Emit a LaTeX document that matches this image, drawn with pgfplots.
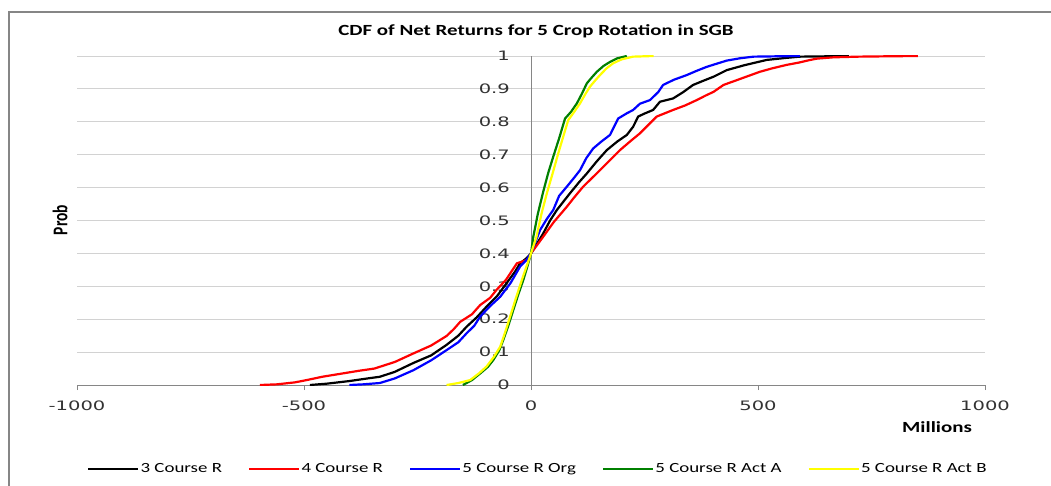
\documentclass[border=0pt]{standalone}
\usepackage{pgfplots}
\pgfplotsset{compat=1.18}
\usepackage{fontspec}
\setmainfont{Carlito}[FakeStretch=1.35]
\newfontfamily\plainfont{Carlito}
\newfontfamily\tickfont{DejaVu Sans}[FakeStretch=1.5]
\definecolor{axgray}{RGB}{134,134,134}
\definecolor{gridgray}{RGB}{210,210,210}
\definecolor{xlgreen}{RGB}{0,128,0}
\definecolor{xlyellow}{RGB}{255,255,0}
\begin{document}
\begin{tikzpicture}[x=1pt,y=1pt]
\useasboundingbox (0,0) rectangle (1051,-486);
\draw[axgray, line width=2pt] (8.5,-486) -- (8.5,-12) -- (1051,-12);
\begin{axis}[
  at={(77pt,-385pt)}, anchor=south west,
  scale only axis, width=908pt, height=329pt,
  xmin=-1000, xmax=1000, ymin=0, ymax=1,
  axis x line=bottom, axis y line=center,
  hide obscured x ticks=false, hide obscured y ticks=false,
  axis line style={-, draw=axgray, line width=1pt},
  every inner x axis line/.append style={-},
  every inner y axis line/.append style={-},
  xtick={-1000,-500,0,500,1000},
  xticklabels={-1000,-500,0,500,1000},
  ytick={0,0.1,0.2,0.3,0.4,0.5,0.6,0.7,0.8,0.9,1},
  yticklabels={0,0.1,0.2,0.3,0.4,0.5,0.6,0.7,0.8,0.9,1},
  ymajorgrids, grid style={gridgray, line width=0.8pt},
  tick align=outside, major tick length=5pt,
  xtick style={draw=axgray, line width=0.8pt},
  ytick style={draw=none},
  xticklabel style={font=\fontsize{13}{15}\tickfont\selectfont, color=black!80, anchor=north, inner sep=0pt, yshift=-11pt},
  yticklabel style={font=\fontsize{13}{15}\tickfont\selectfont, color=black!80, anchor=east, inner sep=0pt, xshift=-16pt},
  legend style={at={(0.507,-0.255)}, anchor=center, draw=none, fill=none,
    font=\fontsize{14}{16}\selectfont, legend columns=5,
    /tikz/every even column/.append style={column sep=25pt},
    nodes={inner sep=1pt}},
  legend image code/.code={\draw[#1, line width=2.5pt] (0pt,0pt) -- (50pt,0pt);},
  line join=round,
]
\addplot[black, line width=2.2pt] coordinates {
(-487,0) (-450,0.004) (-400,0.012) (-360,0.02) (-333,0.025) (-300,0.04) (-259,0.067)
(-220,0.09) (-186,0.122) (-160,0.15) (-142,0.177) (-120,0.205) (-98,0.238) (-75,0.27)
(-54,0.309) (-35,0.345) (-24,0.37) (-10,0.385) (0,0.40) (27,0.461) (42,0.5) (57,0.532)
(70,0.555) (86,0.583) (105,0.615) (123,0.643) (145,0.68) (167,0.714) (190,0.74)
(211,0.76) (225,0.785) (236,0.816) (250,0.825) (269,0.836) (284,0.861) (313,0.871)
(335,0.89) (357,0.912) (380,0.925) (402,0.937) (431,0.957) (470,0.972) (519,0.988)
(560,0.994) (592,0.998) (650,0.999) (700,1.0)};
\addlegendentry{3 Course R}
\addplot[red, line width=2.2pt] coordinates {
(-597,0) (-560,0.002) (-520,0.008) (-494,0.015) (-460,0.025) (-420,0.034) (-380,0.043)
(-345,0.05) (-300,0.07) (-259,0.096) (-220,0.12) (-186,0.149) (-170,0.17) (-156,0.192)
(-130,0.215) (-112,0.243) (-90,0.265) (-76,0.289) (-55,0.32) (-31,0.37) (-9,0.38)
(0,0.40) (27,0.451) (50,0.495) (79,0.542) (95,0.57) (115,0.603) (135,0.63) (152,0.653)
(175,0.685) (196,0.714) (218,0.74) (240,0.765) (258,0.79) (277,0.816) (295,0.826)
(313,0.836) (340,0.85) (365,0.866) (385,0.88) (402,0.891) (424,0.912) (450,0.925)
(480,0.94) (504,0.952) (530,0.962) (563,0.973) (590,0.98) (615,0.988) (630,0.992)
(666,0.996) (720,0.998) (780,0.999) (852,1.0)};
\addlegendentry{4 Course R}
\addplot[blue, line width=2.2pt] coordinates {
(-400,0) (-370,0.002) (-333,0.006) (-300,0.02) (-259,0.045) (-220,0.075) (-186,0.106)
(-160,0.13) (-142,0.157) (-125,0.18) (-112,0.208) (-90,0.24) (-68,0.268) (-45,0.31)
(-24,0.36) (-10,0.38) (0,0.40) (20,0.471) (35,0.505) (49,0.532) (62,0.575) (79,0.603)
(95,0.63) (108,0.653) (122,0.69) (137,0.719) (155,0.74) (174,0.76) (192,0.81)
(210,0.825) (225,0.836) (240,0.855) (262,0.866) (280,0.89) (291,0.912) (315,0.928)
(343,0.942) (365,0.955) (387,0.967) (410,0.977) (431,0.986) (460,0.993) (490,0.998)
(540,0.999) (592,1.0)};
\addlegendentry{5 Course R Org}
\addplot[xlgreen, line width=2.2pt] coordinates {
(-150,0) (-130,0.015) (-112,0.035) (-95,0.055) (-83,0.076) (-70,0.105) (-61,0.137)
(-50,0.18) (-39,0.228) (-28,0.275) (-17,0.319) (-8,0.36) (0,0.40) (5,0.45) (15,0.52)
(27,0.588) (38,0.645) (49,0.694) (62,0.75) (75,0.81) (88,0.83) (101,0.856) (112,0.885)
(123,0.917) (134,0.935) (145,0.952) (160,0.97) (174,0.982) (190,0.993) (211,1.0)};
\addlegendentry{5 Course R Act A}
\addplot[xlyellow, line width=2.2pt] coordinates {
(-186,0) (-160,0.006) (-134,0.015) (-115,0.035) (-98,0.056) (-82,0.085) (-68,0.116)
(-57,0.16) (-46,0.208) (-33,0.265) (-20,0.32) (-10,0.36) (0,0.40) (12,0.45) (23,0.52)
(35,0.583) (48,0.645) (60,0.704) (71,0.755) (82,0.805) (95,0.83) (108,0.856)
(120,0.885) (130,0.907) (141,0.925) (152,0.942) (166,0.962) (181,0.978) (200,0.99)
(225,0.998) (270,1.0)};
\addlegendentry{5 Course R Act B}
\end{axis}
\node[font=\fontsize{15.5}{18}\selectfont\bfseries] at (536,-31) {CDF of Net Returns for 5 Crop Rotation in SGB};
\node[font=\fontsize{15.5}{18}\selectfont\bfseries] at (937,-427) {Millions};
\node[font=\fontsize{15.5}{18}\plainfont\selectfont\bfseries] at (60,-220) {\scalebox{1.35}[1]{\rotatebox{90}{Prob}}};
\end{tikzpicture}
\end{document}
